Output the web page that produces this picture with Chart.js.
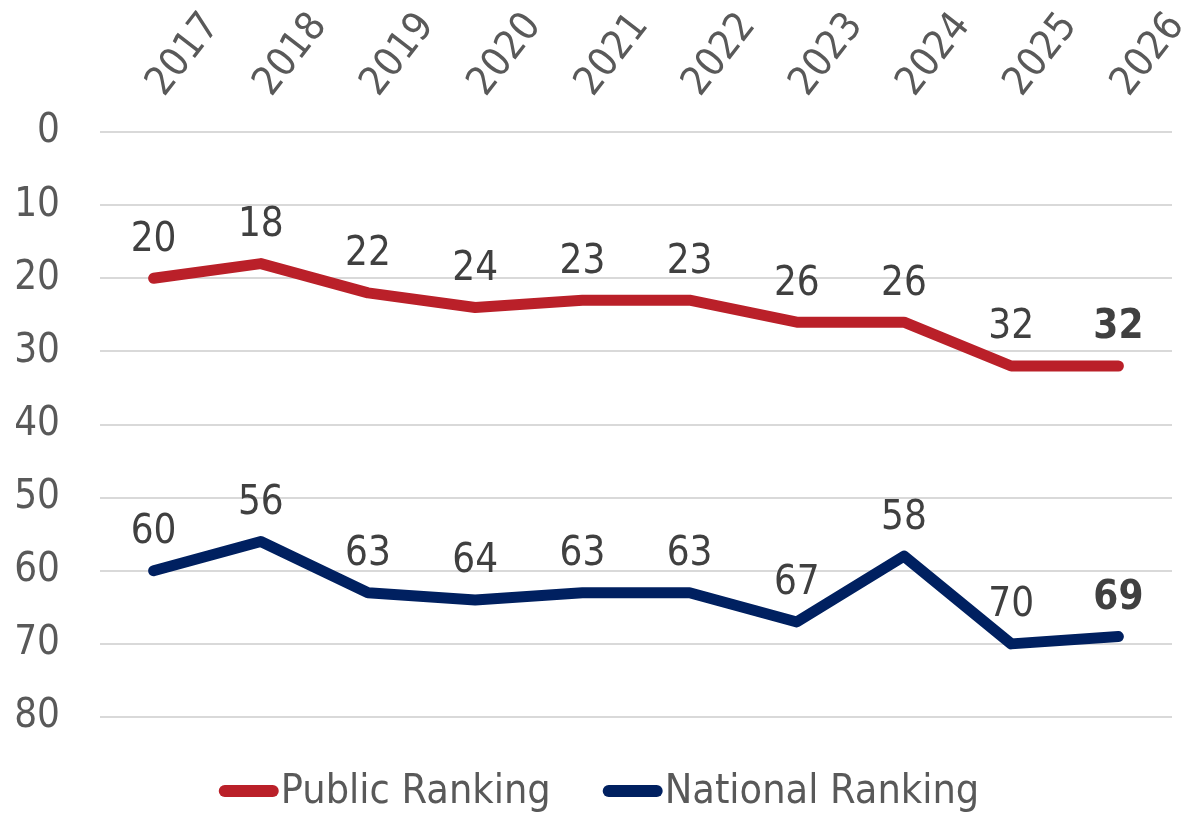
<!DOCTYPE html>
<html>
<head>
<meta charset="utf-8">
<script src="https://cdn.jsdelivr.net/npm/chart.js@4"></script>
<style>
  html, body { margin: 0; padding: 0; background: #fff; }
  #wrap { width: 1192px; height: 813px; }
</style>
</head>
<body>
<div id="wrap"><canvas id="myChart" width="1192" height="813"></canvas></div>
<script>
var years = ["2017", "2018", "2019", "2020", "2021", "2022", "2023", "2024", "2025", "2026"];
var publicRank = [20, 18, 22, 24, 23, 23, 26, 26, 32, 32];
var nationalRank = [60, 56, 63, 64, 63, 63, 67, 58, 70, 69];
var yTicks = [0, 10, 20, 30, 40, 50, 60, 70, 80];

var fontFamily = "'DejaVu Sans Condensed', 'DejaVu Sans', sans-serif";

// value labels above each point (last one bold) + legend at the bottom
var extras = {
    id: "extras",
    afterDatasetsDraw: function (chart) {
        let ctx = chart.ctx;
        ctx.save();
        ctx.fillStyle = "#404040";
        ctx.textAlign = "center";
        ctx.textBaseline = "middle";
        chart.data.datasets.forEach(function (ds, i) {
            let meta = chart.getDatasetMeta(i);
            meta.data.forEach(function (pt, j) {
                let last = j === ds.data.length - 1;
                ctx.font = (last ? "bold " : "") + "40px " + fontFamily;
                ctx.fillText(ds.data[j], pt.x, pt.y - 38);
            });
        });

        // legend
        ctx.font = "41px " + fontFamily;
        ctx.textAlign = "left";
        let markW = 60, gap = 2, itemGap = 52;
        let widths = chart.data.datasets.map(function (ds) {
            return markW + gap + ctx.measureText(ds.label).width;
        });
        let total = widths[0] + itemGap + widths[1];
        let x = chart.width / 2 - total / 2 + 3;
        let y = 791;
        chart.data.datasets.forEach(function (ds, i) {
            ctx.strokeStyle = ds.borderColor;
            ctx.lineWidth = 12;
            ctx.lineCap = "round";
            ctx.beginPath();
            ctx.moveTo(x + 6, y);
            ctx.lineTo(x + markW - 6, y);
            ctx.stroke();
            ctx.fillStyle = "#595959";
            ctx.fillText(ds.label, x + markW + gap, y + 1);
            x += widths[i] + itemGap;
        });
        ctx.restore();
    }
};

new Chart(document.getElementById("myChart"), {
    type: "line",
    data: {
        labels: years,
        datasets: [
            {
                label: "Public Ranking",
                data: publicRank,
                borderColor: "#BA2029",
                backgroundColor: "#BA2029",
                borderWidth: 11,
                borderCapStyle: "round",
                borderJoinStyle: "round",
                pointRadius: 0,
                tension: 0
            },
            {
                label: "National Ranking",
                data: nationalRank,
                borderColor: "#002060",
                backgroundColor: "#002060",
                borderWidth: 11,
                borderCapStyle: "round",
                borderJoinStyle: "round",
                pointRadius: 0,
                tension: 0
            }
        ]
    },
    options: {
        responsive: false,
        animation: false,
        layout: { padding: { left: 0, right: 20, top: 0, bottom: 96 } },
        plugins: {
            tooltip: { enabled: false },
            legend: { display: false }
        },
        scales: {
            x: {
                position: "top",
                offset: true,
                grid: { display: false },
                border: { display: false },
                afterFit: function (axis) {
                    axis.height = 132;
                    axis.paddingLeft = 0;
                    axis.paddingRight = 0;
                },
                ticks: {
                    color: "#595959",
                    minRotation: 52,
                    maxRotation: 52,
                    autoSkip: false,
                    padding: 18,
                    labelOffset: 40,
                    font: { size: 40, family: fontFamily }
                }
            },
            y: {
                reverse: true,
                min: 0,
                max: 80,
                afterBuildTicks: function (axis) {
                    axis.ticks = yTicks.map(function (v) { return { value: v }; });
                },
                afterFit: function (axis) { axis.width = 100; },
                grid: { color: "#D9D9D9", lineWidth: 2, drawTicks: false },
                border: { display: false },
                ticks: {
                    color: "#595959",
                    padding: 40,
                    font: { size: 40, family: fontFamily }
                }
            }
        }
    },
    plugins: [extras]
});
</script>
</body>
</html>
